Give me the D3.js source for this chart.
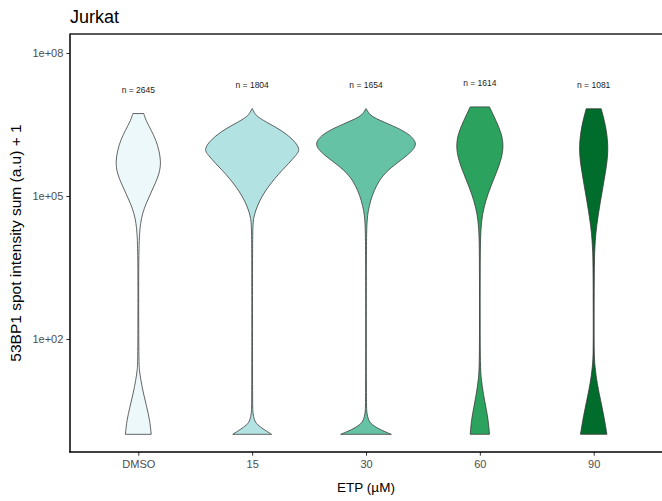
<!DOCTYPE html>
<html><head><meta charset="utf-8">
<script src="https://cdn.jsdelivr.net/npm/d3@7"></script>
<style>body{margin:0;background:#fff}svg{display:block;font-family:"Liberation Sans",Arial,sans-serif}</style>
</head><body>
<svg id="c" width="662" height="501"></svg>
<script>
// ---- data ----
const categories = ["DMSO", "15", "30", "60", "90"];
const counts = [2645, 1804, 1654, 1614, 1081];
const fills = ["#EDF8FB", "#B2E2E2", "#66C2A4", "#2CA25F", "#006D2C"];
const yTickValues = [1e2, 1e5, 1e8];
const yTickLabels = ["1e+02", "1e+05", "1e+08"];
// violin profiles: log10(value + 1) levels and relative density (% of widest)
const levelsDMSO = [6.73, 6.59, 6.38, 6.17, 5.96, 5.72, 5.48, 5.27, 5.06, 4.85, 4.64, 4.43, 4.16, 3.65, 2.82, 1.56, 1.35, 1.14, 0.87, 0.57, 0.30, 0.0];
const densDMSO   = [10.7, 14.6, 25.2, 34.6, 40.4, 44.3, 41.4, 33.4, 24.3, 15.5, 8.3, 4.3, 1.9, 0.8, 0.5, 1.0, 1.9, 4.9, 9.7, 16.5, 22.3, 25.2];
const levels15 = [6.83, 6.76, 6.66, 6.52, 6.31, 6.0, 5.86, 5.68, 5.54, 5.36, 5.19, 4.98, 4.77, 4.56, 4.35, 3.5, 2.0, 0.6, 0.45, 0.30, 0.2, 0.1, 0.0];
const dens15   = [0, 3.5, 9.7, 33, 68, 96, 86, 71.3, 58.3, 43.7, 31.1, 18.4, 9.1, 2.9, 1.0, 0.7, 0.7, 0.8, 1.4, 3.9, 9.7, 23.3, 37.9];
const levels30 = [6.83, 6.76, 6.66, 6.52, 6.34, 6.13, 5.96, 5.75, 5.54, 5.33, 5.12, 4.91, 4.70, 4.49, 4.07, 3.0, 1.5, 0.6, 0.45, 0.3, 0.2, 0.1, 0.0];
const dens30   = [0, 3.8, 11.7, 42.1, 80, 100, 93, 68, 42.1, 25.8, 16.1, 9.1, 4.5, 1.9, 0.8, 0.6, 0.6, 0.8, 1.6, 4.3, 11.7, 27.2, 49.5];
const levels60 = [6.87, 6.59, 6.31, 6.03, 5.75, 5.47, 5.19, 4.91, 4.63, 4.35, 4.07, 3.5, 2.5, 1.42, 1.14, 0.85, 0.57, 0.30, 0.0];
const dens60   = [18.8, 31.1, 42.7, 46.5, 41.4, 31.7, 20.8, 11.7, 5.2, 2.3, 1.2, 0.7, 0.6, 0.8, 2.9, 6.8, 11.7, 16.5, 18.8];
const levels90 = [6.83, 6.45, 5.96, 5.47, 4.98, 4.56, 4.21, 3.86, 3.51, 2.5, 1.70, 1.42, 1.06, 0.71, 0.36, 0.0];
const dens90   = [14.6, 24.3, 29.5, 22.7, 14.6, 8.2, 3.9, 1.9, 1.2, 0.8, 0.8, 2.3, 6.8, 13.6, 20.4, 25.8];

const profiles = [
  [levelsDMSO, densDMSO], [levels15, dens15], [levels30, dens30],
  [levels60, dens60], [levels90, dens90]
];

// ---- layout ----
const svg = d3.select("#c");
const L = 70, R = 662, T = 34, B = 452;

const x = d3.scalePoint().domain(categories).range([L, R]).padding(0.6);
const y = d3.scaleLog().domain([Math.pow(10, -0.371), Math.pow(10, 8.399)]).range([B, T]);
const w = d3.scaleLinear().domain([0, 100]).range([0, 0.45 * x.step()]);

// violins
categories.forEach((c, i) => {
  const [lv, dn] = profiles[i];
  const pts = lv.map((l, k) => ({ v: Math.pow(10, l), d: dn[k] }));
  pts.sort((a, b) => a.v - b.v);
  const cx = x(c);
  const area = d3.area()
    .y(p => y(p.v))
    .x0(p => cx - Math.max(w(p.d), 0.3))
    .x1(p => cx + Math.max(w(p.d), 0.3))
    .curve(d3.curveBasis);
  svg.append("path").attr("d", area(pts))
    .attr("fill", fills[i]).attr("stroke", "#333333").attr("stroke-width", 0.75);
  const top = d3.max(lv);
  svg.append("text").attr("x", cx).attr("y", y(Math.pow(10, top + 0.5)) + 3)
    .attr("text-anchor", "middle").attr("font-size", 8.5).attr("fill", "#1a1a1a")
    .text("n = " + counts[i]);
});

// axes
const gx = svg.append("g").attr("transform", `translate(0,${B})`)
  .call(d3.axisBottom(x).tickSize(3.7).tickPadding(4));
const gy = svg.append("g").attr("transform", `translate(${L},0)`)
  .call(d3.axisLeft(y).tickValues(yTickValues).tickFormat((d, i) => yTickLabels[i]).tickSize(3.7).tickPadding(3));
[gx, gy].forEach(g => {
  g.select(".domain").remove();
  g.selectAll(".tick line").attr("stroke", "#333333").attr("stroke-width", 1);
  g.selectAll(".tick text").attr("fill", "#4D4D4D").attr("font-size", 11)
    .attr("font-family", "Liberation Sans, Arial, sans-serif");
});
svg.append("line").attr("x1", L).attr("x2", L).attr("y1", T - 0.5).attr("y2", B + 0.6)
  .attr("stroke", "#000").attr("stroke-width", 1.5);
svg.append("line").attr("x1", L - 0.7).attr("x2", R).attr("y1", B).attr("y2", B)
  .attr("stroke", "#000").attr("stroke-width", 1.5);
svg.append("line").attr("x1", L).attr("x2", R).attr("y1", T).attr("y2", T)
  .attr("stroke", "#222").attr("stroke-width", 1.3);

// titles
svg.append("text").attr("x", L).attr("y", 23).attr("font-size", 18).attr("fill", "#000").text("Jurkat");
svg.append("text").attr("x", (L + R) / 2).attr("y", 492).attr("text-anchor", "middle")
  .attr("font-size", 13.5).attr("fill", "#000").text("ETP (µM)");
svg.append("text").attr("transform", `translate(21,${(T + B) / 2}) rotate(-90)`)
  .attr("text-anchor", "middle").attr("font-size", 15.5).attr("fill", "#000")
  .text("53BP1 spot intensity sum (a.u) + 1");
</script>
</body></html>
